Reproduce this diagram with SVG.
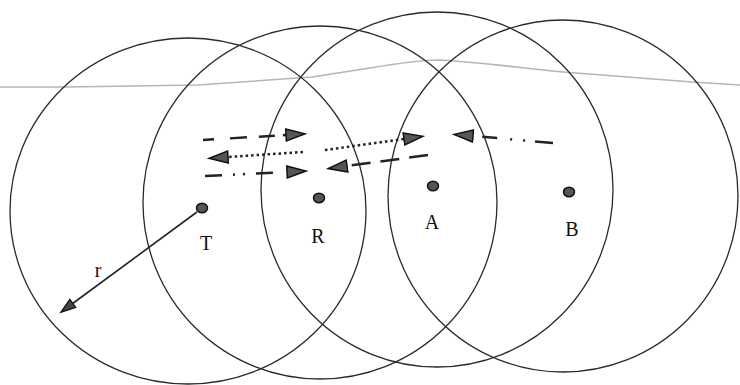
<svg xmlns="http://www.w3.org/2000/svg" width="740" height="385" viewBox="0 0 740 385">
<style>
.range{fill:none;stroke:#2a2a2a;stroke-width:1.3}
.dot{fill:#555;stroke:#111;stroke-width:1.5}
.lbl{font-family:"Liberation Serif","DejaVu Serif",serif;font-size:20px;fill:#111;text-anchor:middle}
.msg{fill:none;stroke:#222;stroke-width:2.5}
.head{fill:#555;stroke:#111;stroke-width:1.5;stroke-linejoin:miter}
</style>
<defs>
<marker id="ah" markerUnits="userSpaceOnUse" markerWidth="24" markerHeight="16" refX="1" refY="7" orient="auto">
<path d="M1,1 L20,7 L1,13 Z" class="head"/>
</marker>
<marker id="ar" markerUnits="userSpaceOnUse" markerWidth="20" markerHeight="14" refX="2" refY="6" orient="auto">
<path d="M1,1 L16,6 L1,11 Z" fill="#444" stroke="#111" stroke-width="1.2"/>
</marker>
</defs>
<rect width="740" height="385" fill="#fff"/>
<path d="M0,87 L67,87 L198,85 L312,77 L370,68 C400,63 420,60 438,60 C480,62 520,68 563,72 L692,82 L740,85" fill="none" stroke="#b5b5b5" stroke-width="1.6"/>
<g id="range-T"><ellipse class="range" cx="188" cy="211" rx="178" ry="173"/></g>
<g id="range-R"><ellipse class="range" cx="320" cy="202.5" rx="177" ry="176.5"/></g>
<g id="range-A"><ellipse class="range" cx="437" cy="189.5" rx="176" ry="177.5"/></g>
<g id="range-B"><ellipse class="range" cx="563" cy="196" rx="175" ry="176"/></g>
<g id="connectors">
<path class="msg" d="M203,140 L286,135" stroke-dasharray="11 16 17 12 16 8" marker-end="url(#ah)"/>
<path class="msg" d="M303,152 L228,157" stroke-dasharray="2.5 3" marker-end="url(#ah)"/>
<path class="msg" d="M205,176 L287,172" stroke-dasharray="17 11 2 8 2 11 17 20" marker-end="url(#ah)"/>
<path class="msg" d="M325,150 L404,139" stroke-dasharray="2.5 3" marker-end="url(#ah)"/>
<path class="msg" d="M428,155 L347,166" stroke-dasharray="19 10" marker-end="url(#ah)"/>
<path class="msg" d="M553,143 L473,136" stroke-dasharray="18 10 2 11 2 13 15 20" marker-end="url(#ah)"/>
<path d="M197,212 L72,304" fill="none" stroke="#222" stroke-width="1.6" marker-end="url(#ar)"/>
</g>
<g id="node-T"><ellipse class="dot" cx="202" cy="208" rx="5.5" ry="4.8"/><text class="lbl" x="206" y="250">T</text></g>
<g id="node-R"><ellipse class="dot" cx="319" cy="198" rx="5.5" ry="4.8"/><text class="lbl" x="318" y="243">R</text></g>
<g id="node-A"><ellipse class="dot" cx="433" cy="186" rx="5.5" ry="4.8"/><text class="lbl" x="432" y="229">A</text></g>
<g id="node-B"><ellipse class="dot" cx="569" cy="192" rx="5.5" ry="4.8"/><text class="lbl" x="572" y="236">B</text></g>
<text class="lbl" x="98" y="277">r</text>
</svg>
